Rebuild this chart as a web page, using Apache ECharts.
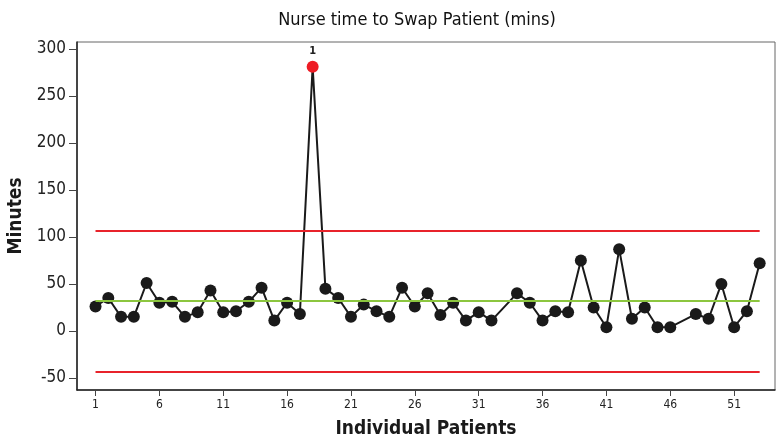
<!DOCTYPE html>
<html>
<head>
<meta charset="UTF-8">
<title>Nurse time to Swap Patient</title>
<script src="https://cdn.jsdelivr.net/npm/echarts@6/dist/echarts.min.js"></script>
<style>
html,body{margin:0;padding:0;width:100%;height:100%;background:#fff;}
#chart{width:779px;height:441px;}
</style>
</head>
<body>
<div id="chart"></div>
<script>
// patient number (33 and 47 have no reading)
var patients = [1,2,3,4,5,6,7,8,9,10,11,12,13,14,15,16,17,18,19,20,21,22,23,24,25,26,27,28,29,30,31,32,
                34,35,36,37,38,39,40,41,42,43,44,45,46,48,49,50,51,52,53];
var minutes = [26,35,15,15,51,30,31,15,20,43,20,21,31,46,11,30,18,281,45,35,15,28,21,15,46,26,40,17,30,11,20,11,
               40,30,11,21,20,75,25,4,87,13,25,4,4,18,13,50,4,21,72];
var outliers = [18];          // points flagged by rule 1
var centerLine = 32.5;
var upperLimit = 106.3;
var lowerLimit = -43.3;
var xTicks = [1,6,11,16,21,26,31,36,41,46,51];
var yTicks = [-50,0,50,100,150,200,250,300];

var font = '"Liberation Sans Narrow","DejaVu Sans Condensed",sans-serif';
var chart = echarts.init(document.getElementById('chart'));

var pts = patients.map(function(p, i){
    var d = {value:[p, minutes[i]]};
    if (outliers.indexOf(p) >= 0) {
        d.itemStyle = {color:'#ee1c25'};
        d.label = {show:true, formatter:'1', position:'top', distance:4,
                   fontWeight:'bold', fontSize:11, color:'#222', fontFamily:font};
    }
    return d;
});

function limit(v, color){
    return [{coord:[patients[0], v], lineStyle:{color:color}}, {coord:[patients[patients.length-1], v]}];
}

chart.setOption({
    animation:false,
    title:{
        text:'Nurse time to Swap Patient (mins)',
        left:412, top:6, textAlign:'center',
        textStyle:{fontFamily:font, fontSize:18, fontWeight:'normal', color:'#111'}
    },
    grid:{left:77, right:4, top:42, bottom:51, show:true, borderColor:'#666', borderWidth:1,
          outerBoundsMode:'none', containLabel:false},
    xAxis:{
        type:'value', min:-0.45, max:54.2,
        name:'Individual Patients', nameLocation:'middle', nameGap:30,
        nameTextStyle:{fontFamily:font, fontSize:19, color:'#1a1a1a', fontWeight:'bold'},
        splitLine:{show:false},
        axisLine:{onZero:false, lineStyle:{color:'#222', width:1.5}},
        axisTick:{customValues:xTicks, length:6, lineStyle:{color:'#444'}},
        axisLabel:{customValues:xTicks, fontFamily:font, fontSize:12, color:'#222', margin:9}
    },
    yAxis:{
        type:'value', min:-62.8, max:307.3,
        name:'Minutes', nameLocation:'middle', nameGap:40, nameRotate:90,
        nameTextStyle:{fontFamily:font, fontSize:19, color:'#1a1a1a', fontWeight:'bold'},
        splitLine:{show:false},
        axisLine:{show:true, onZero:false, lineStyle:{color:'#222', width:1.5}},
        axisTick:{customValues:yTicks, length:8, lineStyle:{color:'#444'}},
        axisLabel:{customValues:yTicks, fontFamily:font, fontSize:17, color:'#222', margin:11}
    },
    series:[{
        type:'line',
        data:pts,
        symbol:'circle', symbolSize:12,
        itemStyle:{color:'#1a1a1a'},
        lineStyle:{color:'#1a1a1a', width:2},
        z:3,
        markLine:{
            silent:true, symbol:'none', label:{show:false},
            lineStyle:{type:'solid', width:2},
            data:[limit(upperLimit,'#e8232b'), limit(lowerLimit,'#e8232b'), limit(centerLine,'#8cc63f')]
        }
    }]
});
</script>
</body>
</html>
